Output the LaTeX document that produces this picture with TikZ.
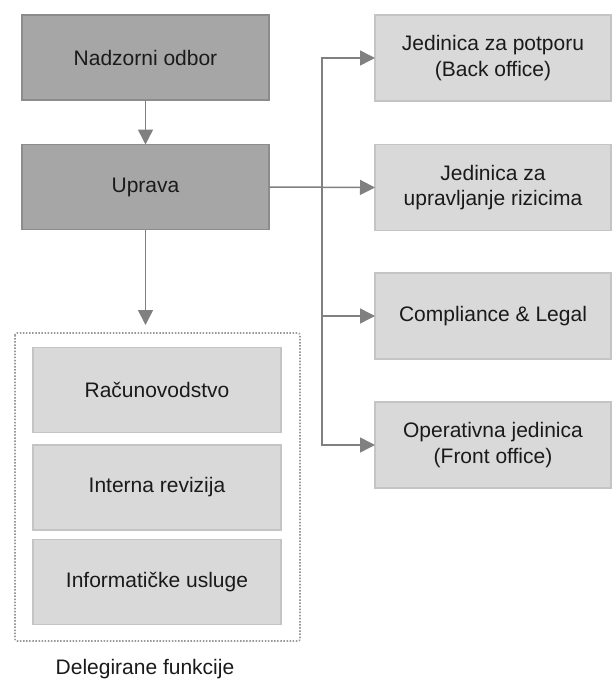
\documentclass[tikz,border=0pt]{standalone}
\usepackage{fontspec}
\setmainfont{Liberation Sans}
\usetikzlibrary{arrows.meta}
\definecolor{darkfill}{HTML}{A6A6A6}
\definecolor{darkline}{HTML}{8C8C8C}
\definecolor{lightfill}{HTML}{D9D9D9}
\definecolor{lightline}{HTML}{C4C4C4}
\definecolor{arrcol}{HTML}{808080}
\definecolor{dotcol}{HTML}{999999}
\definecolor{txt}{HTML}{1A1A1A}
\begin{document}
\begin{tikzpicture}[x=1pt,y=1pt,
  every node/.style={font=\fontsize{21}{25.5}\selectfont, text=txt, align=center, inner sep=0pt, outer sep=0pt},
  darkbox/.style={draw=darkline, fill=darkfill, line width=1.5pt, minimum width=247pt, minimum height=85pt},
  lightbox/.style={draw=lightline, fill=lightfill, line width=1.5pt, minimum width=236pt, minimum height=86pt},
  innerbox/.style={draw=lightline, fill=lightfill, line width=1.5pt, minimum width=248pt, minimum height=85pt},
  arr/.style={draw=arrcol, line width=1.5pt, -{Triangle[length=15pt,width=15pt]}, arrcol},
  dotbox/.style={draw=dotcol, line width=1.6pt, dash pattern=on 1.5pt off 1.6pt, rounded corners=2pt}
]
\useasboundingbox (0,0) rectangle (611,-680);
% left column
\node[darkbox] (nad) at (145.5,-57.5) {Nadzorni odbor};
\node[darkbox] (upr) at (145.5,-187) {Uprava};
% right column
\node[lightbox] (b1) at (493,-58) {Jedinica za potporu\\(Back office)};
\node[lightbox] (b2) at (493,-187.5) {Jedinica za\\upravljanje rizicima};
\node[lightbox] (b3) at (493,-316) {Compliance \& Legal};
\node[lightbox] (b4) at (493,-445) {Operativna jedinica\\(Front office)};
% delegated group
\draw[dotbox] (15,-333) rectangle (300,-641);
\coordinate (dtop) at (145.5,-325);
\node[innerbox] (r1) at (157,-390) {Računovodstvo};
\node[innerbox] (r2) at (157,-487.5) {Interna revizija};
\node[innerbox] (r3) at (157,-582) {Informatičke usluge};
\node[anchor=base] (lbl) at (145,-674) {Delegirane funkcije};
% connectors
\draw[arr] (nad.south) -- (upr.north);
\draw[arr] (upr.south) -- (dtop);
\draw[arr] (upr.east) -- (b2.west);
\coordinate (tr) at (322,-187);
\draw[arr] (tr) |- (b1.west);
\draw[arr] (tr) |- (b3.west);
\draw[arr] (tr) |- (b4.west);
\end{tikzpicture}
\end{document}
